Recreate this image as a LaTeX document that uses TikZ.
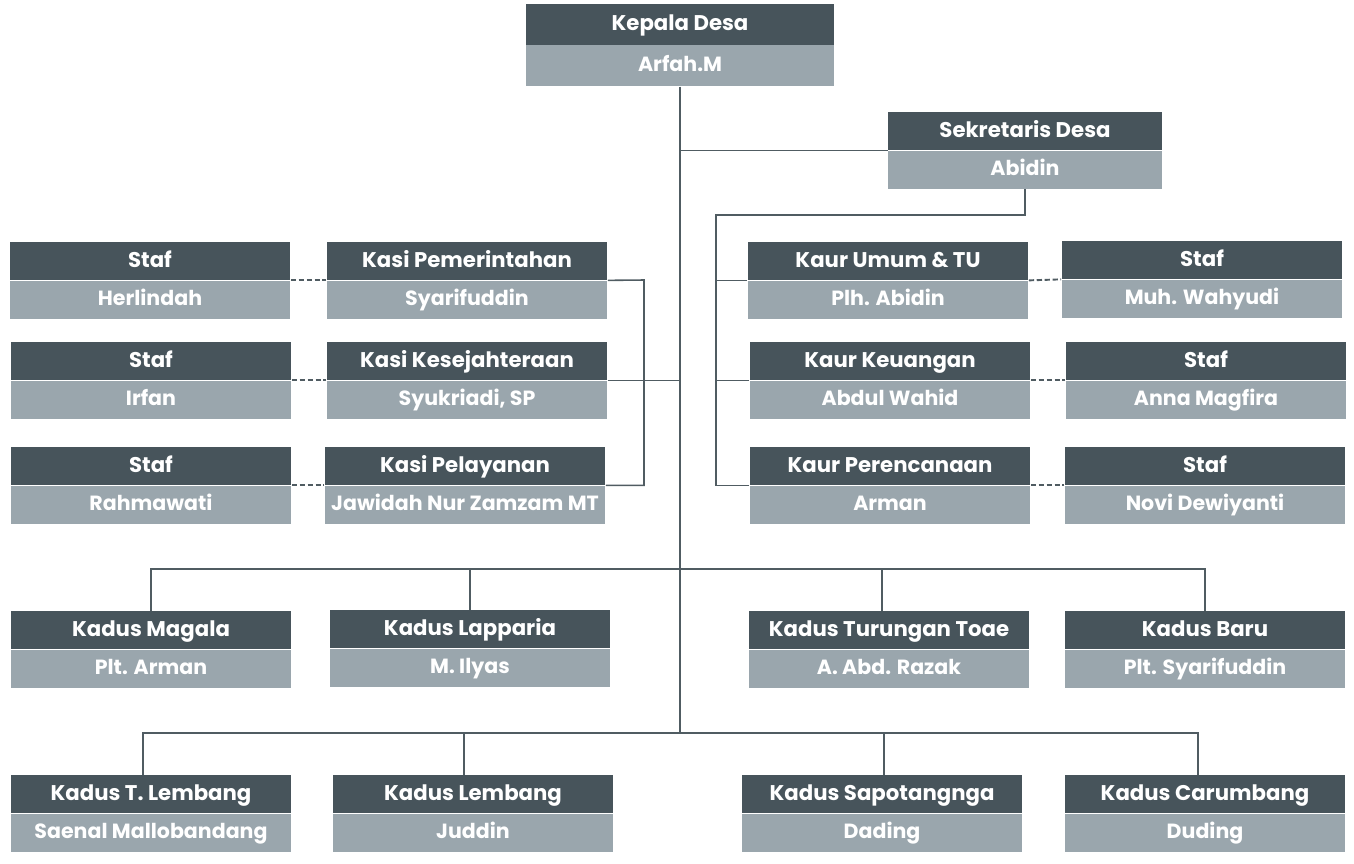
\documentclass[tikz,border=0pt]{standalone}
\usepackage{fontspec}
\setmainfont{Poppins}
\usetikzlibrary{positioning}
\definecolor{gelap}{HTML}{47545B}
\definecolor{terang}{HTML}{9AA6AD}
\definecolor{garisabu}{HTML}{505C62}
\tikzset{
  judul/.style={
    rectangle,
    fill=gelap,
    text=white,
    font=\bfseries\fontsize{12.1}{14}\selectfont,
    minimum width=5.62cm,
    minimum height=0.76cm,
    text height=1.75ex,
    text depth=0.45ex,
    inner sep=0pt,
    text centered},
  nama/.style={
    judul,
    fill=terang,
    font=\bfseries\fontsize{11.7}{14}\selectfont},
  garis/.style = {draw=garisabu,line width=0.9pt},
  putus/.style = {garis,line width=1.1pt,dashed,dash pattern=on 3pt off 1.5pt},
}
\begin{document}
\begin{tikzpicture}[x=0.02cm,y=-0.02cm]
  \useasboundingbox (0,0) rectangle (1354,863);
  % pimpinan
  \node[judul,minimum width=6.18cm,minimum height=0.82cm](kades) at (680,24) {Kepala Desa};
  \node[nama,minimum width=6.18cm,minimum height=0.82cm,below=0pt of kades](kades-n) {Arfah.M};
  \node[judul,minimum width=5.48cm](sekdes) at (1025,131) {Sekretaris Desa};
  \node[nama,minimum width=5.48cm,below=0pt of sekdes](sekdes-n) {Abidin};
  % kasi kiri
  \node[judul](staf1) at (150,261) {Staf};
  \node[nama,below=0pt of staf1](staf1-n) {Herlindah};
  \node[judul](kpem) at (467,261) {Kasi Pemerintahan};
  \node[nama,below=0pt of kpem](kpem-n) {Syarifuddin};
  \node[judul](staf2) at (151,361) {Staf};
  \node[nama,below=0pt of staf2](staf2-n) {Irfan};
  \node[judul](kkes) at (467,361) {Kasi Kesejahteraan};
  \node[nama,below=0pt of kkes](kkes-n) {Syukriadi, SP};
  \node[judul](staf3) at (151,466) {Staf};
  \node[nama,below=0pt of staf3](staf3-n) {Rahmawati};
  \node[judul](kpel) at (465,466) {Kasi Pelayanan};
  \node[nama,below=0pt of kpel](kpel-n) {Jawidah Nur Zamzam MT};
  % kaur kanan
  \node[judul](kaurum) at (888,261) {Kaur Umum \& TU};
  \node[nama,below=0pt of kaurum](kaurum-n) {Plh. Abidin};
  \node[judul](staf4) at (1202,260) {Staf};
  \node[nama,below=0pt of staf4](staf4-n) {Muh. Wahyudi};
  \node[judul](kaurkeu) at (890,361) {Kaur Keuangan};
  \node[nama,below=0pt of kaurkeu](kaurkeu-n) {Abdul Wahid};
  \node[judul](staf5) at (1206,361) {Staf};
  \node[nama,below=0pt of staf5](staf5-n) {Anna Magfira};
  \node[judul](kaurper) at (890,466) {Kaur Perencanaan};
  \node[nama,below=0pt of kaurper](kaurper-n) {Arman};
  \node[judul](staf6) at (1205,466) {Staf};
  \node[nama,below=0pt of staf6](staf6-n) {Novi Dewiyanti};
  % kadus baris 1
  \node[judul](magala) at (151,630) {Kadus Magala};
  \node[nama,below=0pt of magala](magala-n) {Plt. Arman};
  \node[judul](lapparia) at (470,629) {Kadus Lapparia};
  \node[nama,below=0pt of lapparia](lapparia-n) {M. Ilyas};
  \node[judul](turungan) at (889,630) {Kadus Turungan Toae};
  \node[nama,below=0pt of turungan](turungan-n) {A. Abd. Razak};
  \node[judul](baru) at (1205,630) {Kadus Baru};
  \node[nama,below=0pt of baru](baru-n) {Plt. Syarifuddin};
  % kadus baris 2
  \node[judul](tlembang) at (151,794) {Kadus T. Lembang};
  \node[nama,below=0pt of tlembang](tlembang-n) {Saenal Mallobandang};
  \node[judul](lembang) at (473,794) {Kadus Lembang};
  \node[nama,below=0pt of lembang](lembang-n) {Juddin};
  \node[judul](sapo) at (882,794) {Kadus Sapotangnga};
  \node[nama,below=0pt of sapo](sapo-n) {Dading};
  \node[judul](carumbang) at (1205,794) {Kadus Carumbang};
  \node[nama,below=0pt of carumbang](carumbang-n) {Duding};
  % garis
  \coordinate (bus1) at (680,569);
  \coordinate (bus2) at (680,733);
  \coordinate (kiri) at (716,215);
  \coordinate (kanan) at (644,280);
  \draw[garis] (kades-n.south) -- (bus2);
  \draw[garis] (kades-n.south |- sekdes.south west) -- (sekdes.south west);
  \draw[garis] (sekdes-n.south) |- (kiri) -- (kiri |- kaurper.south west) -- (kaurper.south west);
  \draw[garis] (kiri |- kaurum.south west) -- (kaurum.south west);
  \draw[garis] (kiri |- kaurkeu.south west) -- (kaurkeu.south west);
  \draw[garis] (kpem.south east) -- (kanan) -- (kanan |- kpel.south east) -- (kpel.south east);
  \draw[garis] (kkes.south east) -- (kkes.south east -| kades-n.south);
  \draw[putus] (staf1.south east) -- (kpem.south west);
  \draw[putus] (staf2.south east) -- (kkes.south west);
  \draw[putus] (staf3.south east) -- (kpel.south west);
  \draw[putus] (kaurum.south east) -- (staf4.south west);
  \draw[putus] (kaurkeu.south east) -- (staf5.south west);
  \draw[putus] (kaurper.south east) -- (staf6.south west);
  \draw[garis] (magala.north) |- (bus1) -| (baru.north);
  \draw[garis] (lapparia.north) -- (lapparia.north |- bus1);
  \draw[garis] ([xshift=-0.14cm]turungan.north) -- ([xshift=-0.14cm]turungan.north |- bus1);
  \draw[garis] ([xshift=-0.16cm]tlembang.north) |- (bus2) -| ([xshift=-0.14cm]carumbang.north);
  \draw[garis] ([xshift=-0.18cm]lembang.north) -- ([xshift=-0.18cm]lembang.north |- bus2);
  \draw[garis] ([xshift=0.04cm]sapo.north) -- ([xshift=0.04cm]sapo.north |- bus2);
\end{tikzpicture}
\end{document}
